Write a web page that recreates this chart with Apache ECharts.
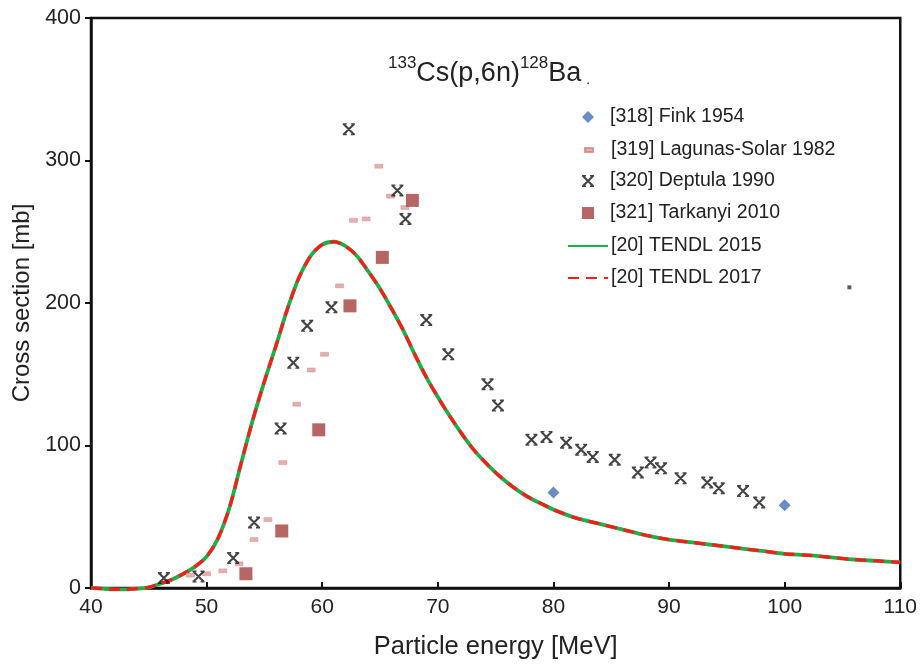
<!DOCTYPE html>
<html><head><meta charset="utf-8">
<script src="https://cdn.jsdelivr.net/npm/echarts@6/dist/echarts.min.js"></script>
<style>html,body{margin:0;padding:0;background:#fff}#c{width:920px;height:665px}</style>
</head><body><div id="c"></div>
<script>
// ---- data ----
const xTicks = [40, 50, 60, 70, 80, 90, 100, 110];
const yTicks = [0, 100, 200, 300, 400];

const finkE  = [80, 100];
const finkXS = [67, 58];

const lagunasE  = [48.6, 50.0, 51.4, 52.8, 54.1, 55.3, 56.6, 57.8, 59.05, 60.2, 61.5, 62.7, 63.8, 64.9, 65.9, 67.15];
const lagunasXS = [9, 10, 12, 17, 34, 48, 88, 129, 153, 164, 212, 258, 259, 296, 275, 267];

const deptulaE  = [46.3, 49.3, 52.3, 54.1, 56.4, 57.5, 58.7, 60.8, 62.3, 66.5, 67.2, 69.0, 70.9, 74.3, 75.2, 78.1, 79.4, 81.1, 82.4, 83.4, 85.3, 87.3, 88.4, 89.3, 91.0, 93.3, 94.3, 96.4, 97.8];
const deptulaXS = [7, 8, 21, 46, 112, 158, 184, 197, 322, 279, 259, 188, 164, 143, 128, 104, 106, 102, 97, 92, 90, 81, 88, 84, 77, 74, 70, 68, 60];

const tarkanyiE  = [53.4, 56.5, 59.7, 62.4, 65.2, 67.8];
const tarkanyiXS = [10, 40, 111, 198, 232, 272];

const tendlE  = [40, 41, 42, 43, 44, 45, 46, 47, 48, 49, 50, 51, 52, 53, 54, 55, 56, 57, 58, 59, 60, 61, 62, 63, 64, 65, 66, 67, 68, 69, 70, 71, 72, 73, 74, 75, 76, 77, 78, 79, 80, 82, 84, 86, 88, 90, 92, 94, 96, 98, 100, 102, 104, 106, 108, 110];
const tendlXS = [0, -0.5, -1, -1, -0.5, 0.5, 3, 6, 10, 15, 22, 35, 57, 88, 118, 145, 170, 196, 218, 233, 241, 243, 240, 233, 222, 210, 196, 181, 164, 148, 134, 121, 109, 98, 89, 81, 74, 68, 63, 59, 55, 49, 45, 41, 37, 34, 32, 30, 28, 26, 24, 23, 21.5, 20, 19, 18];

const strayE  = [105.6];
const strayXS = [211];

const names = ['[318] Fink 1954', '[319] Lagunas-Solar 1982', '[320] Deptula 1990', '[321] Tarkanyi 2010', '[20] TENDL 2015', '[20] TENDL 2017'];

const pairs = (xs, ys) => xs.map((x, i) => [x, ys[i]]);
const starPath = 'path://M0,1.5L1.5,0L12,10.5L10.5,12Z' +
  'M10.5,0L12,1.5L1.5,12L0,10.5Z' +
  'M0,0H4V1.4H0Z M8,0H12V1.4H8Z M0,10.6H4V12H0Z M8,10.6H12V12H8Z' +
  'M4.3,4.3H7.7V7.7H4.3Z';
const FONT = '"Liberation Sans", Arial, sans-serif';

// one legend per row so each icon gets its own size; ECharts puts text 5px after icon
function leg(name, iconLeft, cy, w, h, textX, extra) {
  const pad = textX - (iconLeft + w + 5);
  return Object.assign({
    orient: 'vertical', data: [name],
    left: iconLeft - 5, top: cy - 14,
    itemWidth: w, itemHeight: h,
    textStyle: {fontSize: 19.5, fontFamily: FONT, color: '#222', padding: [0, 0, 0, pad]},
    selectedMode: false
  }, extra || {});
}

const chart = echarts.init(document.getElementById('c'), null, {renderer: 'canvas'});
chart.setOption({
  backgroundColor: '#fff',
  animation: false,
  textStyle: {fontFamily: FONT, color: '#222'},
  title: {
    left: 383, top: 50,
    text: '{sup|133}{n|Cs(p,6n)}{sup|128}{n|Ba}{dot|.}',
    textStyle: {
      fontWeight: 'normal',
      rich: {
        n: {fontSize: 27, fontWeight: 'normal', fontFamily: FONT, color: '#222', verticalAlign: 'bottom', lineHeight: 32},
        sup: {fontSize: 17, fontWeight: 'normal', fontFamily: FONT, color: '#222', verticalAlign: 'top', lineHeight: 32, padding: [0, 0, 12, 0]},
        dot: {fontSize: 14, fontWeight: 'normal', fontFamily: FONT, color: '#222', verticalAlign: 'bottom', lineHeight: 30, padding: [0, 0, 0, 5]}
      }
    }
  },
  legend: [
    leg(names[0], 582, 116, 12, 12, 610),
    leg(names[1], 584, 149, 8, 4, 610),
    leg(names[2], 582, 180, 12, 12, 610),
    leg(names[3], 582, 212, 12, 12, 610),
    leg(names[4], 567, 245, 40, 8, 610, {itemStyle: {opacity: 0}}),
    leg(names[5], 567, 277, 40, 8, 610, {itemStyle: {opacity: 0}})
  ],
  grid: {left: 91, right: 17, top: 18, bottom: 72, show: true, borderColor: '#111', borderWidth: 2.5},
  xAxis: {
    type: 'value', min: 40, max: 110, interval: 10,
    name: 'Particle energy [MeV]', nameLocation: 'middle', nameGap: 46,
    nameTextStyle: {fontSize: 25.5, fontFamily: FONT, color: '#222'},
    axisLine: {show: true, lineStyle: {color: '#111', width: 2.5}},
    axisTick: {show: true, inside: true, length: 6, lineStyle: {color: '#111', width: 2}},
    axisLabel: {fontSize: 21, color: '#222', margin: 9, formatter: v => xTicks.includes(v) ? String(v) : ''},
    splitLine: {show: false}
  },
  yAxis: {
    type: 'value', min: 0, max: 400, interval: 100,
    name: 'Cross section [mb]', nameLocation: 'middle', nameGap: 56,
    nameTextStyle: {fontSize: 24, fontFamily: FONT, color: '#222'},
    axisLine: {show: true, lineStyle: {color: '#111', width: 2.5}},
    axisTick: {show: true, inside: false, length: 6, lineStyle: {color: '#111', width: 2}},
    axisLabel: {fontSize: 21.5, color: '#222', margin: 10, formatter: v => yTicks.includes(v) ? String(v) : ''},
    splitLine: {show: false}
  },
  series: [
    {name: names[4], type: 'line', data: pairs(tendlE, tendlXS), symbol: 'none', smooth: 0.3, clip: false,
     lineStyle: {color: '#1DB04A', width: 3.8}, itemStyle: {color: '#1DB04A'}, z: 3},
    {name: names[5], type: 'line', data: pairs(tendlE, tendlXS), symbol: 'none', smooth: 0.3, clip: false,
     lineStyle: {color: '#FF1A1A', width: 3.2, type: [11, 7]}, itemStyle: {color: '#FF1A1A'}, z: 4},
    {name: names[0], type: 'scatter', data: pairs(finkE, finkXS), symbol: 'diamond', symbolSize: 12,
     itemStyle: {color: '#4170B4'}, z: 5},
    {name: names[1], type: 'scatter', data: pairs(lagunasE, lagunasXS), symbol: 'rect', symbolSize: [8, 4],
     itemStyle: {color: '#DC9C9C', borderColor: '#CF8585', borderWidth: 0.5}, z: 5},
    {name: names[2], type: 'scatter', data: pairs(deptulaE, deptulaXS), symbol: starPath, symbolSize: 12,
     itemStyle: {color: '#151515'}, z: 6},
    {name: names[3], type: 'scatter', data: pairs(tarkanyiE, tarkanyiXS), symbol: 'rect', symbolSize: 13,
     itemStyle: {color: '#A3403E'}, z: 5},
    {name: 'stray', type: 'scatter', data: pairs(strayE, strayXS), symbol: 'rect', symbolSize: 4,
     itemStyle: {color: '#333'}, z: 5, silent: true}
  ]
});
</script>
</body></html>
